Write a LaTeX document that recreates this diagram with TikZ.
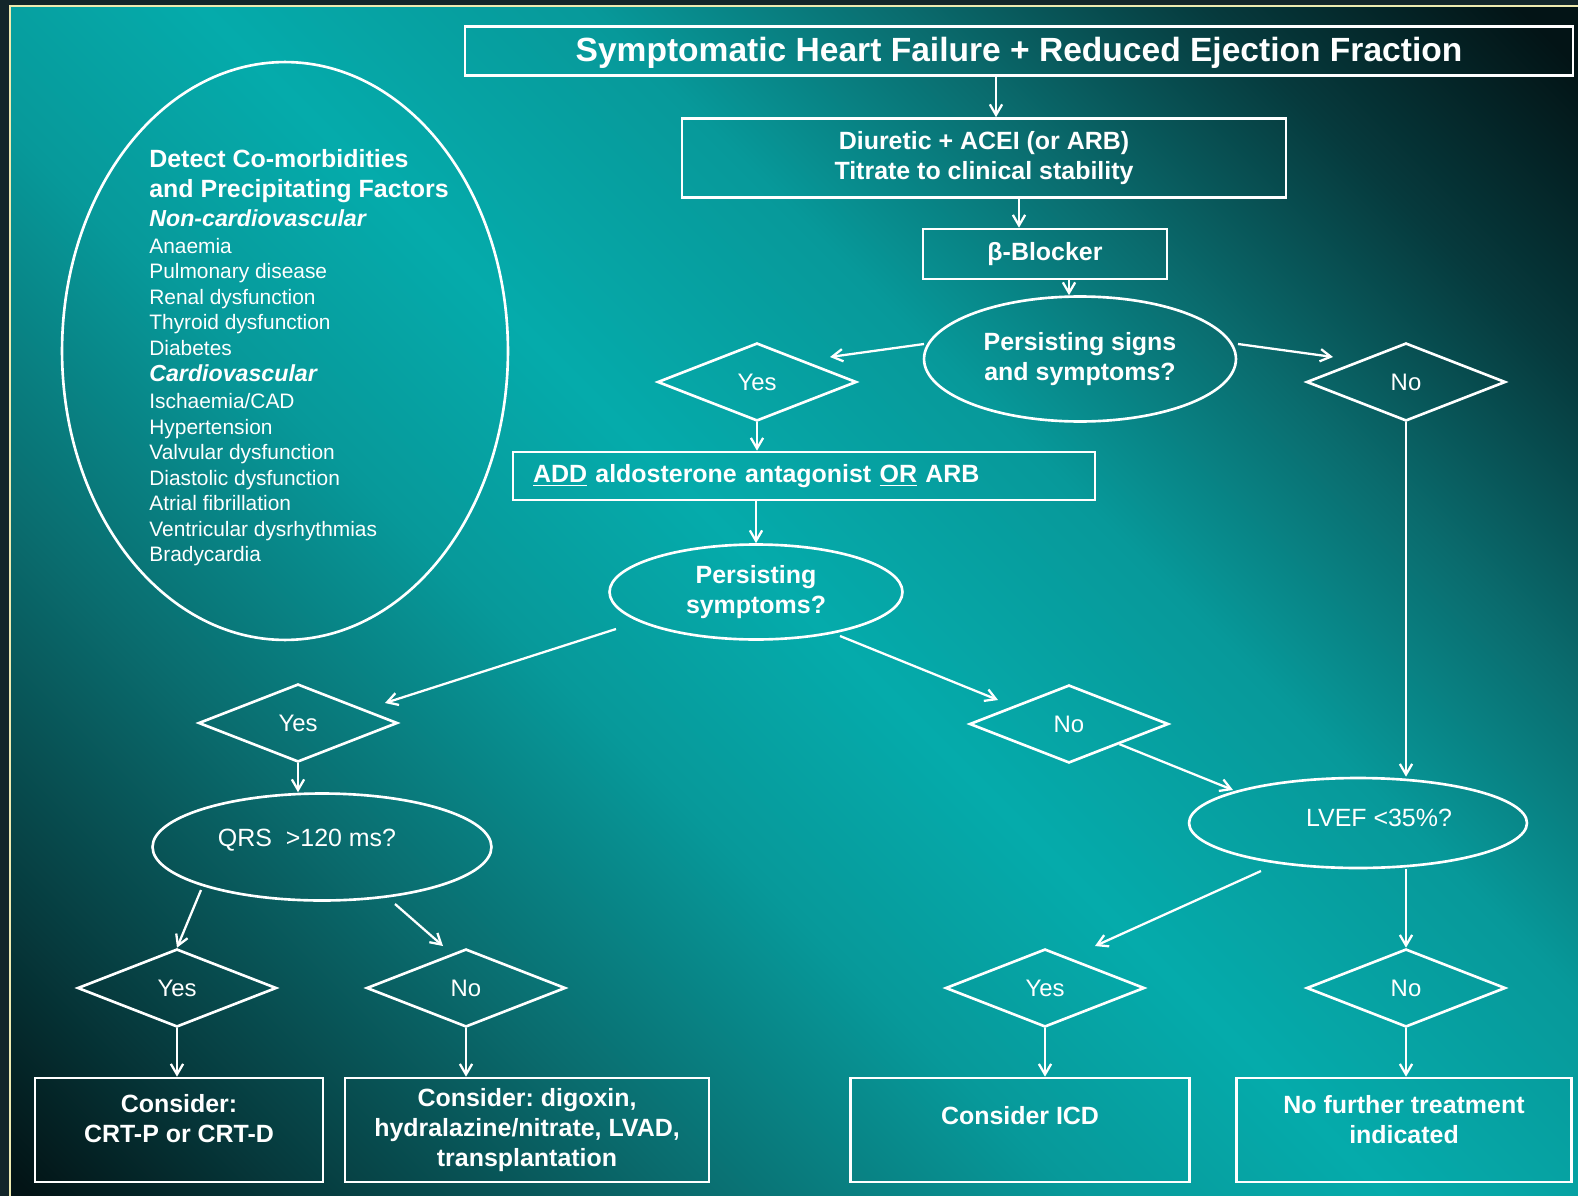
\documentclass[tikz,border=0pt]{standalone}
\usepackage{fontspec}
\setmainfont{Liberation Sans}
\usetikzlibrary{arrows.meta, positioning, shapes.geometric, calc}
\frenchspacing

\definecolor{framedark}{HTML}{13262A}
\definecolor{frameline}{HTML}{EEEAB0}
\definecolor{bgA}{HTML}{031416}
\definecolor{bgB}{HTML}{063A3D}
\definecolor{bgC}{HTML}{0A6C6E}
\definecolor{bgD}{HTML}{07999A}
\definecolor{bgE}{HTML}{05ABAB}

% teal background, dark towards two opposite corners
\pgfdeclareverticalshading{tealbg}{100bp}{color(0bp)=(bgA); color(15bp)=(bgA); color(22bp)=(bgB);
  color(32bp)=(bgC); color(42bp)=(bgD); color(50bp)=(bgE); color(60bp)=(bgD); color(68bp)=(bgC);
  color(76bp)=(bgB); color(84bp)=(bgA); color(100bp)=(bgA)}

\newcommand{\hftitle}{\fontsize{19.1}{22}\selectfont\bfseries}
\newcommand{\hfbox}{\fontsize{14.2}{17}\selectfont\bfseries}
\newcommand{\hfquery}{\fontsize{14.2}{17}\selectfont}
\newcommand{\hfchoice}{\fontsize{13.6}{16}\selectfont}
\newcommand{\hfsub}{\fontsize{13.2}{15.5}\selectfont\bfseries\itshape}
\newcommand{\hflist}{\fontsize{11.9}{14.5}\selectfont}

\begin{document}
\begin{tikzpicture}[x=0.02cm, y=-0.02cm, >={Straight Barb[length=6pt,width=7pt]},
    box/.style={rectangle, draw=white, line width=1.5pt, align=center, text=white, inner sep=2pt, font=\hfbox},
    oval/.style={ellipse, draw=white, line width=1.5pt, align=center, text=white, inner sep=0pt, font=\hfbox},
    choice/.style={diamond, draw=white, line width=1.5pt, text=white, inner sep=0pt, aspect=2.5,
      minimum width=3.98cm, minimum height=1.56cm, font=\hfchoice},
    arr/.style={->, draw=white, line width=1.3pt}]
  \useasboundingbox (0,0) rectangle (1578,1196);
  \fill[framedark] (0,0) rectangle (1578,1196);
  \shade[shading=tealbg, shading angle=-45] (10,6) rectangle (1578,1196);
  \draw[frameline, line width=1.2pt] (10,1196) -- (10,6) -- (1578,6);

  % main column
  \node[box, font=\hftitle, minimum width=22.16cm, minimum height=0.98cm, text depth=2pt] (title) at (1019,51) {Symptomatic Heart Failure + Reduced Ejection Fraction};
  \node[box, minimum width=12.08cm, minimum height=1.58cm] (diur) at (984,158) {Diuretic + ACEI (or ARB)\\Titrate to clinical stability};
  \node[box, minimum width=4.88cm, minimum height=1cm] (beta) at (1045,254) {β-Blocker};
  \node[oval, minimum width=6.24cm, minimum height=2.5cm] (pss) at (1080,359) {Persisting signs\\and symptoms?};
  \node[choice] (yes1) at (757,382) {Yes};
  \node[choice] (no1) at (1406,382) {No};
  \node[box, text width=10.84cm, align=left, inner xsep=0.4cm, minimum height=0.96cm] (add) at (804,476) {\underline{ADD} aldosterone antagonist \underline{OR} ARB};
  \node[oval, minimum width=5.86cm, minimum height=1.9cm] (ps) at (756,592) {Persisting\\symptoms?};
  \node[choice] (yes2) at (298,723) {Yes};
  \node[choice] (no2) at (1069,724) {No};
  \node[oval, font=\hfquery, minimum width=6.76cm, minimum height=1.8cm, text depth=5.7pt] (lvef) at (1358,823) {\hspace*{0.84cm}LVEF <35\%?};
  \node[oval, font=\hfquery, minimum width=6.78cm, minimum height=2.14cm, text depth=11pt] (qrs) at (322,847) {QRS\ \ >120 ms?\hspace*{0.6cm}};
  \node[choice] (yes4) at (177,988) {Yes};
  \node[choice] (no4) at (466,988) {No};
  \node[choice] (yes3) at (1045,988) {Yes};
  \node[choice] (no3) at (1406,988) {No};
  \node[box, minimum width=5.76cm, minimum height=2.08cm, text depth=13.6pt] (crt) at (179,1130) {Consider:\\CRT-P or CRT-D};
  \node[box, minimum width=7.28cm, minimum height=2.08cm] (alt) at (527,1130) {Consider: digoxin,\\hydralazine/nitrate, LVAD,\\transplantation};
  \node[box, minimum width=6.78cm, minimum height=2.08cm, text depth=17pt] (icd) at (1020,1130) {Consider ICD};
  \node[box, minimum width=6.7cm, minimum height=2.08cm, text depth=12.5pt] (nft) at (1404,1130) {No further treatment\\indicated};

  % co-morbidities
  \node[ellipse, draw=white, line width=1.5pt, minimum width=8.92cm, minimum height=11.56cm] (cofac) at (285,351) {};
  \node[text=white, align=left, font=\hflist, anchor=north west, inner sep=0pt] (cofaclist) at (149,149) {%
    {\hfbox Detect Co-morbidities}\\[2.5pt]
    {\hfbox and Precipitating Factors}\\[2pt]
    {\hfsub Non-cardiovascular}\\[0.8pt]
    Anaemia\\
    Pulmonary disease\\
    Renal dysfunction\\
    Thyroid dysfunction\\
    Diabetes\\[0.8pt]
    {\hfsub Cardiovascular}\\[0.8pt]
    Ischaemia/CAD\\
    Hypertension\\
    Valvular dysfunction\\
    Diastolic dysfunction\\
    Atrial fibrillation\\
    Ventricular dysrhythmias\\
    Bradycardia};

  % connectors
  \draw[arr] ($(title.south)+(-23,0)$) -- ($(diur.north)+(12,0)$);
  \draw[arr] ($(diur.south)+(35,0)$) -- ($(beta.north)+(-26,0)$);
  \draw[arr] ($(beta.south)+(24,0)$) -- ($(pss.north)+(-11,0)$);
  \draw[arr] ($(pss.center)+(-156,-15)$) -- ($(yes1.center)+(73,-25)$);
  \draw[arr] ($(pss.center)+(158,-15)$) -- ($(no1.center)+(-73,-25)$);
  \draw[arr] (yes1.south) -- (yes1.south |- add.north);
  \draw[arr] (add.south -| ps.north) -- (ps.north);
  \draw[arr] ($(ps.center)+(-140,37)$) -- ($(yes2.center)+(87,-20)$);
  \draw[arr] ($(ps.center)+(84,44)$) -- ($(no2.center)+(-71,-24)$);
  \draw[arr] (no2.south east) -- ($(lvef.center)+(-125,-33)$);
  \draw[arr] (no1.south) -- (no1.south |- lvef.north);
  \draw[arr] ($(lvef.center)+(-97,48)$) -- ($(yes3.center)+(50,-42)$);
  \draw[arr] (no3.north |- lvef.south) -- (no3.north);
  \draw[arr] (yes3.south) -- (yes3.south |- icd.north);
  \draw[arr] (no3.south) -- (no3.south |- nft.north);
  \draw[arr] (yes2.south) -- (yes2.south |- qrs.north);
  \draw[arr] ($(qrs.center)+(-121,43)$) -- (yes4.north);
  \draw[arr] ($(qrs.center)+(73,57)$) -- ($(no4.center)+(-23,-42)$);
  \draw[arr] (yes4.south) -- (yes4.south |- crt.north);
  \draw[arr] (no4.south) -- (no4.south |- alt.north);
\end{tikzpicture}
\end{document}
